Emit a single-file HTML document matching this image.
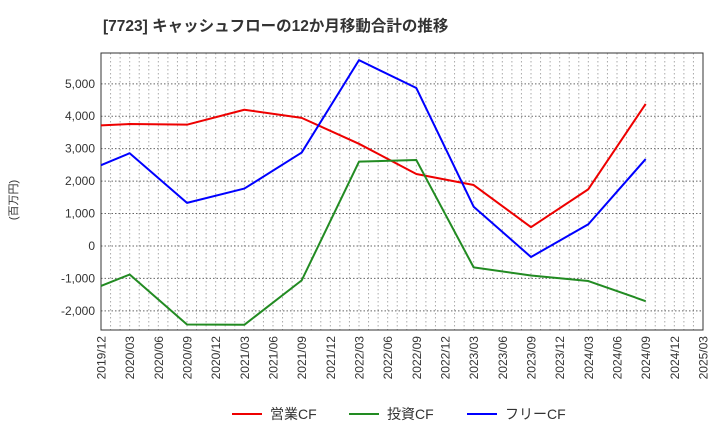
<!DOCTYPE html>
<html><head><meta charset="utf-8"><style>
body{margin:0;background:#fff;font-family:"Liberation Sans","Noto Sans CJK JP",sans-serif;}
svg text{font-family:"Liberation Sans","Noto Sans CJK JP",sans-serif;}
</style></head><body>
<svg id="chart" width="720" height="440" viewBox="0 0 720 440">
<text x="103" y="31" font-size="15.5" font-weight="bold" fill="#333">[7723]  キャッシュフローの12か月移動合計の推移</text>
<text transform="translate(17,200) rotate(-90)" font-size="11" fill="#333" text-anchor="middle">(百万円)</text>
<g id="grid"></g>
<g id="axes"></g>
<g id="series"></g>
<g>
<line x1="232" y1="414" x2="262" y2="414" stroke="#e00" stroke-width="2"/>
<text x="270" y="419" font-size="14" fill="#333">営業CF</text>
<line x1="349" y1="414" x2="379" y2="414" stroke="#228B22" stroke-width="2"/>
<text x="387" y="419" font-size="14" fill="#333">投資CF</text>
<line x1="467" y1="414" x2="497" y2="414" stroke="#00f" stroke-width="2"/>
<text x="505" y="419" font-size="14" fill="#333">フリーCF</text>
</g>
</svg>
<script>
const xLabels=["2019/12","2020/03","2020/06","2020/09","2020/12","2021/03","2021/06","2021/09","2021/12","2022/03","2022/06","2022/09","2022/12","2023/03","2023/06","2023/09","2023/12","2024/03","2024/06","2024/09","2024/12","2025/03"];
const yTicks=[-2000,-1000,0,1000,2000,3000,4000,5000];
const dataIdx=[0,1,3,5,7,9,11,13,15,17,19];
const operatingCF=[3720,3760,3740,4200,3950,3150,2220,1880,580,1750,4380];
const investingCF=[-1230,-880,-2420,-2430,-1060,2600,2650,-660,-910,-1080,-1700];
const freeCF=[2490,2860,1330,1770,2880,5730,4870,1210,-340,670,2680];
const L=101,R=703,T=53,B=330,yMin=-2590,yMax=5950;
const xs=i=>L+(R-L)*i/21;
const ys=v=>B-(v-yMin)/(yMax-yMin)*(B-T);
const NS="http://www.w3.org/2000/svg";
function mk(tag,attrs,parent){const e=document.createElementNS(NS,tag);for(const k in attrs)e.setAttribute(k,attrs[k]);parent.appendChild(e);return e;}
const grid=document.getElementById('grid'),axes=document.getElementById('axes'),series=document.getElementById('series');
for(let m=1;m<63;m++){const x=L+(R-L)*m/63;const l=mk('line',{x1:x,x2:x,y1:T,y2:B,stroke:'#aaa','stroke-dasharray':'1.5,2.5','stroke-width':1},grid);

}
yTicks.forEach(v=>{const y=ys(v);const l=mk('line',{x1:L,x2:R,y1:y,y2:y,stroke:'#666','stroke-dasharray':'1.5,2','stroke-width':1},grid);


const t=mk('text',{x:L-6,y:y+4,'font-size':12,fill:'#333','text-anchor':'end'},axes);t.textContent=v.toLocaleString('en-US');

});
const fr=mk('rect',{x:L,y:T,width:R-L,height:B-T,fill:'none',stroke:'#333','stroke-width':1},axes);


xLabels.forEach((s,i)=>{const x=xs(i);const t=mk('text',{transform:`translate(${x+4.5},${B+6}) rotate(-90)`,'font-size':12,fill:'#333','text-anchor':'end'},axes);t.textContent=s;

});
[[operatingCF,'#e00','operating-cf-line'],[investingCF,'#228B22','investing-cf-line'],[freeCF,'#00f','free-cf-line']].forEach(([d,c,n])=>{
const p=mk('polyline',{points:d.map((v,i)=>xs(dataIdx[i])+','+ys(v)).join(' '),fill:'none',stroke:c,'stroke-width':2,'stroke-linejoin':'round'},series);

});
</script>
</body></html>
